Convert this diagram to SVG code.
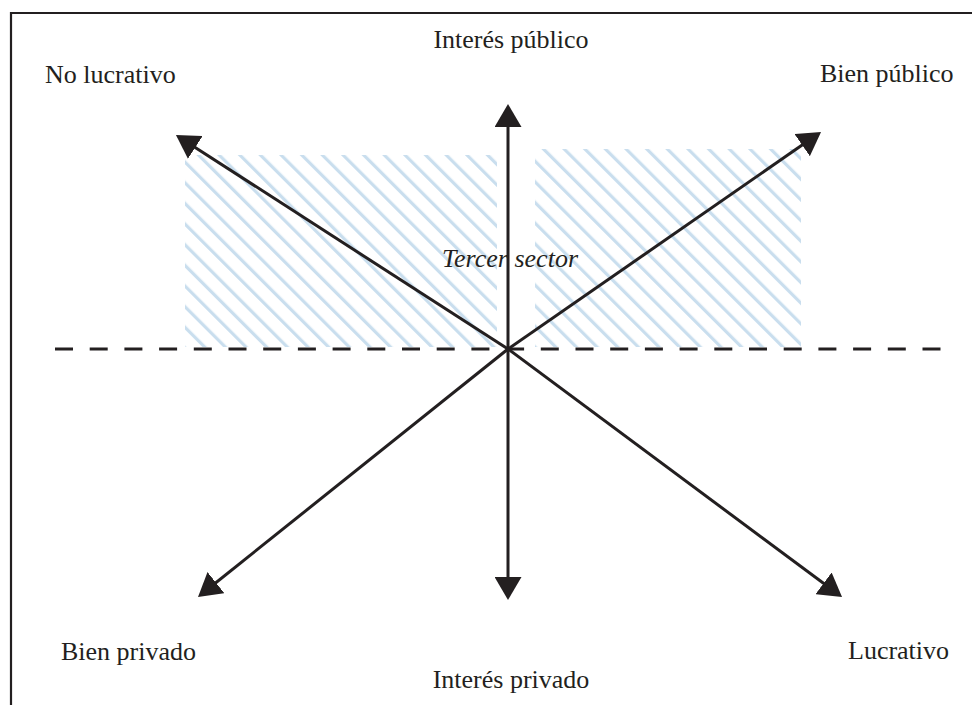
<svg xmlns="http://www.w3.org/2000/svg" width="972" height="705" viewBox="0 0 972 705">
  <style>
    .lbl { font-family: "Liberation Serif", "Times New Roman", serif; font-size: 26px; fill: #231f20; }
    .it { font-style: italic; }
    .axis { stroke: #231f20; stroke-width: 3; fill: none; marker-end: url(#ah); }
    .hatch { fill: url(#hp); }
  </style>
  <defs>
    <marker id="ah" viewBox="0 0 23 27" markerWidth="23" markerHeight="27" markerUnits="userSpaceOnUse" refX="7" refY="13.5" orient="auto">
      <path d="M0,0 L23,13.5 L0,27 z" fill="#231f20"/>
    </marker>
    <pattern id="hp" patternUnits="userSpaceOnUse" width="14.6" height="14.6" patternTransform="rotate(-45)">
      <rect x="0" y="0" width="3.2" height="14.6" fill="#c9deee"/>
    </pattern>
  </defs>
  <rect width="972" height="705" fill="#ffffff"/>
  <path d="M11,705 V13 H972" fill="none" stroke="#231f20" stroke-width="2.2"/>

  <g id="hatch-left"><rect class="hatch" x="185" y="155" width="312" height="192"/></g>
  <g id="hatch-right"><rect class="hatch" x="535" y="149" width="266" height="198"/></g>

  <g id="tercer-sector"><text class="lbl it" x="442" y="267">Tercer sector</text></g>

  <g id="connectors">
    <line x1="55" y1="349" x2="946" y2="349" stroke="#231f20" stroke-width="3" stroke-dasharray="18 16.7" stroke-dashoffset="0"/>
    <line class="axis" x1="508" y1="349" x2="508" y2="120"/>
    <line class="axis" x1="508" y1="349" x2="508" y2="584"/>
    <line class="axis" x1="508" y1="349" x2="189.4" y2="143.7"/>
    <line class="axis" x1="508" y1="349" x2="807.9" y2="141.1"/>
    <line class="axis" x1="508" y1="349" x2="210.5" y2="587"/>
    <line class="axis" x1="508" y1="349" x2="829.2" y2="587.5"/>
  </g>

  <g id="interes-publico"><text class="lbl" x="511" y="48" text-anchor="middle">Interés público</text></g>
  <g id="no-lucrativo"><text class="lbl" x="45" y="83">No lucrativo</text></g>
  <g id="bien-publico"><text class="lbl" x="820" y="82">Bien público</text></g>
  <g id="bien-privado"><text class="lbl" x="61" y="660">Bien privado</text></g>
  <g id="lucrativo"><text class="lbl" x="848" y="659">Lucrativo</text></g>
  <g id="interes-privado"><text class="lbl" x="511" y="688" text-anchor="middle">Interés privado</text></g>
</svg>
